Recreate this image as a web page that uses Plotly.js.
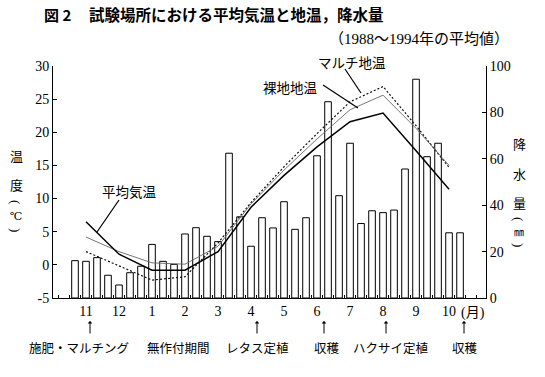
<!DOCTYPE html>
<html>
<head>
<meta charset="utf-8">
<script src="https://cdn.plot.ly/plotly-3.0.1.min.js"></script>
<style>
  html, body { margin: 0; padding: 0; background: #fff; }
  #chart { width: 545px; height: 377px; }
</style>
</head>
<body>
<div id="chart"></div>
<script>
// Month labels (November to October), three 10-day periods per month
const months = ['11', '12', '1', '2', '3', '4', '5', '6', '7', '8', '9', '10'];

// Precipitation per 10-day period (mm), 36 periods
const precip = [
  16.1, 15.8, 17.4,   9.8, 5.6, 10.9,   13.7, 23.1, 15.8,   14.5, 27.6, 30.3,
  26.6, 24.3, 62.4,   35.0, 22.3, 34.6,  30.2, 41.5, 29.6,   34.6, 61.3, 84.6,
  44.1, 66.7, 32.1,   37.6, 36.8, 37.9,  55.6, 94.3, 60.9,   66.7, 28.1, 28.1
];

// Monthly mean temperatures (°C)
const airTemp   = [6.5, 1.6, -0.8, -0.8, 2.0, 8.7, 13.5, 17.8, 21.6, 22.9, 17.2, 11.4];
const bareSoil  = [4.2, 2.0, 0.3, 0.1, 2.8, 9.2, 14.3, 19.0, 23.4, 25.6, 20.6, 15.0];
const mulchSoil = [2.0, -0.2, -2.3, -1.8, 3.3, 9.4, 14.8, 19.8, 24.6, 26.9, 21.0, 14.7];

// Axis tick values and labels
const tempTicks = [-5, 0, 5, 10, 15, 20, 25, 30];
const tempTickText = ['-5', '0', '5', '10', '15', '20', '25', '30'];
const precipTicks = [0, 20, 40, 60, 80, 100];

// Work schedule notes under the axis
const events = [
  {month: '11', label: '施肥・マルチング'},
  {month: '4',  label: 'レタス定植'},
  {month: '6',  label: '収穫'},
  {month: '8',  label: 'ハクサイ定植'},
  {month: '10', label: '収穫'}
];
const fallowLabel = '無作付期間';

// ---- geometry helpers (pixel -> paper) ----
const W = 545, H = 377;
const M = {l: 53, r: 59, t: 66, b: 79};
const PW = W - M.l - M.r, PH = H - M.t - M.b;
const px = x => (x - M.l) / PW;
const py = y => (H - M.b - y) / PH;

const periodIdx = precip.map((_, i) => i);
const monthIdx = months.map((_, m) => 3 * m + 1);
const xRange = [-2.0, 37.36];

const serif = 'Liberation Serif, Noto Sans CJK JP, serif';
const jp = 'Noto Sans CJK JP, sans-serif';

const traces = [
  {
    type: 'bar', x: periodIdx, y: precip, yaxis: 'y', xaxis: 'x',
    width: 0.6,
    marker: {color: '#ffffff', line: {color: '#000', width: 1}},
    hoverinfo: 'skip'
  },
  {
    type: 'scatter', mode: 'lines', x: monthIdx, y: mulchSoil, yaxis: 'y2',
    line: {color: '#111', width: 1.2, dash: '2px,2px'}, hoverinfo: 'skip'
  },
  {
    type: 'scatter', mode: 'lines', x: monthIdx, y: bareSoil, yaxis: 'y2',
    line: {color: '#666', width: 0.9}, hoverinfo: 'skip'
  },
  {
    type: 'scatter', mode: 'lines', x: monthIdx, y: airTemp, yaxis: 'y2',
    line: {color: '#000', width: 1.5}, hoverinfo: 'skip'
  }
];

const annotations = [];
const shapes = [];

const addText = (text, x, y, opts) => annotations.push(Object.assign({
  xref: 'paper', yref: 'paper', x: px(x), y: py(y), xanchor: 'center', yanchor: 'middle',
  text: text, showarrow: false, font: {family: jp, size: 13, color: '#000'}
}, opts || {}));

// Title lines
addText('<b>図 2</b>', 42, 14, {xanchor: 'left', font: {family: jp, size: 15, color: '#000'}});
addText('<b>試験場所における平均気温と地温，降水量</b>', 87, 14, {xanchor: 'left', font: {family: jp, size: 15.5, color: '#000'}});
addText('（1988～1994年の平均値）', 511, 39, {xanchor: 'right', font: {family: serif, size: 15, color: '#000'}});

// Axis titles, written vertically one character at a time;
// the brackets are turned a quarter so they open along the column
const parenFont = {family: 'Liberation Serif, serif', size: 13, color: '#000'};
const unitFont = {family: 'DejaVu Serif, serif', size: 11, color: '#000'};
[['温', 155], ['度', 184]].forEach(([c, y]) => addText(c, 16, y));
addText('(', 16, 202, {textangle: 90, font: parenFont});
addText('℃', 16, 216, {font: unitFont});
addText(')', 16, 230, {textangle: 90, font: parenFont});

[['降', 143], ['水', 173], ['量', 203]].forEach(([c, y]) => addText(c, 519, y));
addText('(', 519, 219, {textangle: 90, font: parenFont});
addText('㎜', 519, 232, {font: {family: jp, size: 10, color: '#000'}});
addText(')', 519, 245, {textangle: 90, font: parenFont});

// Unit after the last month label
addText('(月)', 459, 313, {xanchor: 'left', font: {family: serif, size: 14, color: '#000'}});

// Series labels with leader lines
const seriesLabels = [
  {text: '平均気温',   tx: 129, ty: 191, from: [119, 200], to: [97, 232]},
  {text: '裸地地温',   tx: 290, ty: 87,  from: [323, 85],  to: [358, 108]},
  {text: 'マルチ地温', tx: 352, ty: 62,  from: [345, 69],  to: [361, 93]}
];
seriesLabels.forEach(s => {
  addText(s.text, s.tx, s.ty, {font: {family: jp, size: 13.5, color: '#000'}});
  shapes.push({type: 'line', xref: 'paper', yref: 'paper',
    x0: px(s.from[0]), y0: py(s.from[1]), x1: px(s.to[0]), y1: py(s.to[1]),
    line: {color: '#000', width: 1.2}});
});

// Schedule arrows and notes
const eventArrowPx = {'11': 90, '4': 257, '6': 324, '8': 386, '10': 464};
const eventTextPx = {'11': 79, '4': 257, '6': 327, '8': 391, '10': 465};
events.forEach(e => {
  annotations.push({xref: 'paper', yref: 'paper', x: px(eventArrowPx[e.month]), y: py(321),
    text: '', showarrow: true, arrowhead: 1, arrowsize: 0.8, arrowwidth: 1, arrowcolor: '#000',
    ax: 0, ay: 14});
  addText(e.label, eventTextPx[e.month], 347, {font: {family: jp, size: 12.5, color: '#000'}});
});
addText(fallowLabel, 178, 347, {font: {family: jp, size: 12.5, color: '#000'}});

const layout = {
  width: W, height: H,
  margin: M,
  paper_bgcolor: '#fff', plot_bgcolor: '#fff',
  showlegend: false,
  bargap: 0,
  xaxis: {
    range: xRange, tickmode: 'array', tickvals: monthIdx, ticktext: months,
    ticks: '', showline: true, linecolor: '#000', linewidth: 1,
    showgrid: false, zeroline: false,
    tickfont: {family: serif, size: 14, color: '#000'},
    minor: {tickmode: 'linear', tick0: -0.5, dtick: 1, ticks: 'inside', ticklen: 3, tickcolor: '#000', showgrid: false}
  },
  yaxis: {
    range: [0, 100], side: 'right', tickmode: 'array', tickvals: precipTicks,
    ticks: 'inside', ticklen: 4, tickcolor: '#000',
    showline: true, linecolor: '#000', linewidth: 1,
    showgrid: false, zeroline: false,
    tickfont: {family: serif, size: 14, color: '#000'}
  },
  yaxis2: {
    overlaying: 'y', side: 'left', range: [-5, 30], tickmode: 'array',
    tickvals: tempTicks, ticktext: tempTickText,
    ticks: 'inside', ticklen: 4, tickcolor: '#000',
    showline: true, linecolor: '#000', linewidth: 1,
    showgrid: false, zeroline: false,
    tickfont: {family: serif, size: 14, color: '#000'}
  },
  annotations: annotations,
  shapes: shapes
};

Plotly.newPlot('chart', traces, layout, {staticPlot: true, displayModeBar: false});
</script>
</body>
</html>
